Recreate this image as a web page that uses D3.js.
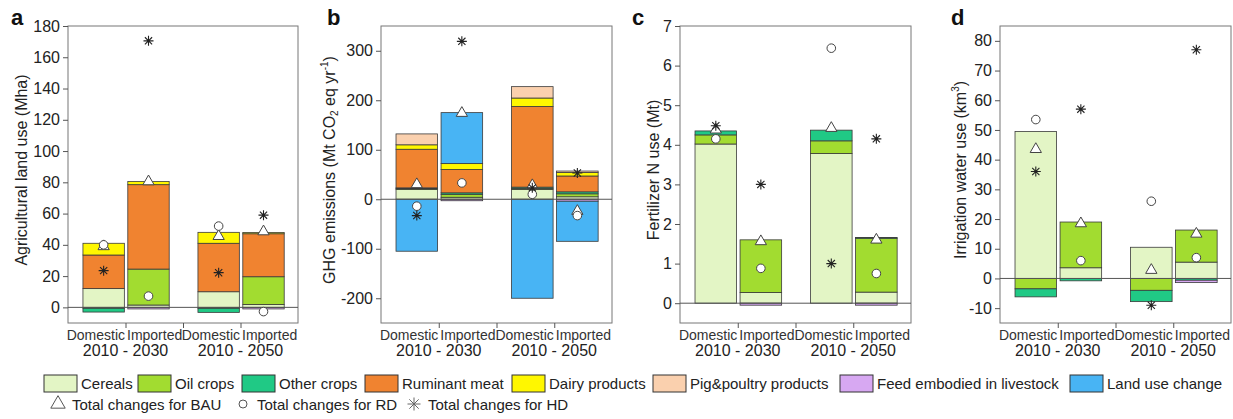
<!DOCTYPE html>
<html>
<head>
<meta charset="utf-8">
<script src="https://cdn.jsdelivr.net/npm/d3@7"></script>
<style>
  body { margin: 0; background: #fff; }
  svg { font-family: "Liberation Sans", Arial, sans-serif; }
</style>
</head>
<body>
<svg id="chart" width="1233" height="419"></svg>
<script>
const categories = ["Cereals", "Oil crops", "Other crops", "Ruminant meat", "Dairy products",
  "Pig&poultry products", "Feed embodied in livestock", "Land use change"];
const colors = ["#e3f5c5", "#a2dc30", "#20c985", "#f08330", "#fff700", "#fad0ae", "#d7a8f2", "#48b4f4"];
const barLabels = ["Domestic", "Imported", "Domestic", "Imported"];
const periods = ["2010 - 2030", "2010 - 2050"];
const markerNames = ["Total changes for BAU", "Total changes for RD", "Total changes for HD"];

// a: agricultural land use (Mha), one row per category, one column per bar
const landUse = [
  [12, 1.5, 10, 1.8],
  [-0.6, 23, -0.6, 17.8],
  [-2.4, 0, -2.6, 0],
  [21.5, 54, 31, 27.5],
  [7.5, 2, 7, 0.8],
  [0, 0, 0, 0],
  [0, -1, 0, -1],
  [0, 0, 0, 0]
];
const landBAU = [39, 80.5, 45.5, 48.5];
const landRD = [40, 7.2, 52, -2.7];
const landHD = [23.5, 170.5, 22.2, 59];

// b: GHG emissions (Mt CO2 eq / yr)
const ghg = [
  [20, 4, 20, 5],
  [1.5, 6, 2, 6],
  [1.5, 3, 2.5, 4],
  [78, 47, 163, 32],
  [9, 12, 17, 7],
  [22, 0, 23, 3],
  [0, -3, 0, -4],
  [-105, 103, -200, -81]
];
const ghgBAU = [30, 174, 28, -24];
const ghgRD = [-14, 33, 10, -33];
const ghgHD = [-33, 319, 23, 53];

// c: fertilizer N use (Mt)
const fert = [
  [4.02, 0.27, 3.78, 0.28],
  [0.23, 1.33, 0.32, 1.36],
  [0.1, 0, 0.27, 0.02],
  [0, 0, 0, 0],
  [0, 0, 0, 0],
  [0, 0, 0, 0],
  [0, -0.05, 0, -0.05],
  [0, 0, 0, 0]
];
const fertBAU = [4.38, 1.56, 4.42, 1.6];
const fertRD = [4.15, 0.88, 6.44, 0.75];
const fertHD = [4.48, 3.0, 1.0, 4.15];

// d: irrigation water use (km3)
const water = [
  [49.5, 3.6, 10.5, 5.5],
  [-3.5, 15.4, -4, 10.8],
  [-2.7, -0.8, -3.8, -0.6],
  [0, 0, 0, 0],
  [0, 0, 0, 0],
  [0, 0, 0, 0],
  [0, 0, 0, -0.8],
  [0, 0, 0, 0]
];
const waterBAU = [43.5, 18.5, 2.8, 15];
const waterRD = [53.5, 6, 26, 7];
const waterHD = [36, 57, -9, 77];

const svg = d3.select("#chart");
const plotTop = 26, plotBottom = 323;

const panels = [
  {id: "a", left: 68, right: 298, domain: [-10, 180], ticks: d3.range(0, 181, 20),
   values: landUse, marks: [landBAU, landRD, landHD], labelX: 11, titleX: 21},
  {id: "b", left: 381, right: 612, domain: [-250, 350], ticks: d3.range(-200, 301, 100),
   values: ghg, marks: [ghgBAU, ghgRD, ghgHD], labelX: 327, titleX: 329},
  {id: "c", left: 680, right: 911, domain: [-0.5, 7], ticks: d3.range(0, 8, 1),
   values: fert, marks: [fertBAU, fertRD, fertHD], labelX: 632, titleX: 653},
  {id: "d", left: 1000, right: 1231, domain: [-15, 85], ticks: d3.range(-10, 81, 10),
   values: water, marks: [waterBAU, waterRD, waterHD], labelX: 951, titleX: 960}
];

// bar centre in the 0..4 frame domain
function centre(i) { return 2 * Math.floor(i / 2) + (i % 2 === 0 ? 0.62 : 1.4); }
const halfW = 0.36;

function starPath(r) {
  const a = r * 0.72;
  return "M0," + (-r) + "L0," + r + "M" + (-r) + ",0L" + r + ",0" +
    "M" + (-a) + "," + (-a) + "L" + a + "," + a + "M" + (-a) + "," + a + "L" + a + "," + (-a);
}
const triPath = d3.symbol(d3.symbolTriangle, 55)();

function drawMarker(sel, kind) {
  if (kind === 0) {
    sel.append("path").attr("d", triPath).attr("fill", "#fff").attr("stroke", "#444").attr("stroke-width", 1);
  } else if (kind === 1) {
    sel.append("circle").attr("r", 4.3).attr("fill", "#fff").attr("stroke", "#444").attr("stroke-width", 1);
  } else {
    sel.append("path").attr("d", starPath(5)).attr("fill", "none").attr("stroke", "#222").attr("stroke-width", 1.1);
  }
}

panels.forEach(function(p) {
  const x = d3.scaleLinear().domain([0, 4]).range([p.left, p.right]);
  const y = d3.scaleLinear().domain(p.domain).range([plotBottom, plotTop]);
  const g = svg.append("g").attr("id", "panel-" + p.id);

  g.append("rect")
    .attr("x", p.left).attr("y", plotTop)
    .attr("width", p.right - p.left).attr("height", plotBottom - plotTop)
    .attr("fill", "none").attr("stroke", "#777").attr("stroke-width", 1);

  const rows = barLabels.map(function(b, i) {
    const r = {i: i};
    categories.forEach(function(c, k) { r[c] = p.values[k][i]; });
    return r;
  });
  const series = d3.stack().keys(categories).offset(d3.stackOffsetDiverging)(rows);

  series.forEach(function(s, k) {
    g.append("g")
      .selectAll("rect")
      .data(s.filter(function(d) { return d[1] !== d[0]; }))
      .join("rect")
        .attr("x", function(d) { return x(centre(d.data.i) - halfW); })
        .attr("width", function(d) { return x(centre(d.data.i) + halfW) - x(centre(d.data.i) - halfW); })
        .attr("y", function(d) { return y(Math.max(d[0], d[1])); })
        .attr("height", function(d) { return Math.abs(y(d[0]) - y(d[1])); })
        .attr("fill", colors[k])
        .attr("stroke", "#3a3a3a")
        .attr("stroke-width", 0.8);
  });

  g.append("line")
    .attr("x1", p.left).attr("x2", p.right)
    .attr("y1", y(0)).attr("y2", y(0))
    .attr("stroke", "#555").attr("stroke-width", 1);

  const ya = g.append("g")
    .attr("transform", "translate(" + p.left + ",0)")
    .call(d3.axisLeft(y).tickValues(p.ticks).tickSize(5).tickPadding(3)
      .tickFormat(function(d) { return String(d); }));
  ya.select(".domain").remove();
  ya.selectAll("text").attr("font-size", 16).attr("fill", "#222")
    .attr("font-family", "Liberation Sans, Arial, sans-serif");
  ya.selectAll("line").attr("stroke", "#555");

  const xa = g.append("g")
    .attr("transform", "translate(0," + plotBottom + ")")
    .call(d3.axisBottom(x).tickValues([1, 2, 3]).tickSize(5).tickFormat(""));
  xa.select(".domain").remove();
  xa.selectAll("line").attr("stroke", "#555");

  barLabels.forEach(function(lab, i) {
    const tick = 2 * Math.floor(i / 2) + 1;
    g.append("text")
      .attr("x", x(tick) + (i % 2 === 0 ? -0.5 : 1.5))
      .attr("y", 340)
      .attr("text-anchor", i % 2 === 0 ? "end" : "start")
      .attr("font-size", 14).attr("fill", "#333")
      .text(lab);
  });
  periods.forEach(function(per, j) {
    g.append("text")
      .attr("x", x(2 * j + 1)).attr("y", 356)
      .attr("text-anchor", "middle")
      .attr("font-size", 16).attr("fill", "#222")
      .text(per);
  });

  p.marks.forEach(function(arr, kind) {
    arr.forEach(function(v, i) {
      const m = g.append("g").attr("transform", "translate(" + x(centre(i)) + "," + y(v) + ")");
      drawMarker(m, kind);
    });
  });

  g.append("text")
    .attr("x", p.labelX).attr("y", 25)
    .attr("font-size", 22).attr("font-weight", "bold").attr("fill", "#111")
    .text(p.id);
});

// y titles
function yTitle(xc, parts) {
  const t = svg.append("text")
    .attr("transform", "translate(" + xc + ",170) rotate(-90)")
    .attr("text-anchor", "middle").attr("dy", "0.35em")
    .attr("font-size", 16).attr("fill", "#222");
  parts.forEach(function(pt) {
    const s = t.append("tspan").text(pt.t);
    if (pt.sub) s.attr("font-size", 10).attr("dy", "0.35em");
    if (pt.sup) s.attr("font-size", 10).attr("dy", "-0.7em");
    if (pt.back) s.attr("dy", pt.back);
  });
}
yTitle(panels[0].titleX, [{t: "Agricultural land use (Mha)"}]);
yTitle(panels[1].titleX, [{t: "GHG emissions (Mt CO"}, {t: "2", sub: true}, {t: " eq yr", back: "-0.22em"},
  {t: "-1", sup: true}, {t: ")", back: "0.45em"}]);
yTitle(panels[2].titleX, [{t: "Fertilizer N use (Mt)"}]);
yTitle(panels[3].titleX, [{t: "Irrigation water use (km"}, {t: "3", sup: true}, {t: ")", back: "0.45em"}]);

// legend, first row: category swatches
const legendX = [44, 138, 242, 365, 512, 653, 840, 1070];
const leg1 = svg.append("g").attr("font-size", 15).attr("fill", "#222");
categories.forEach(function(c, k) {
  leg1.append("rect").attr("x", legendX[k]).attr("y", 375).attr("width", 33).attr("height", 17)
    .attr("fill", colors[k]).attr("stroke", "#333").attr("stroke-width", 1);
  leg1.append("text").attr("x", legendX[k] + 37).attr("y", 389).text(c);
});

// second row: scenario markers
const leg2 = svg.append("g").attr("font-size", 15).attr("fill", "#222");
const m2x = [58, 243, 414];
markerNames.forEach(function(n, k) {
  const m = leg2.append("g").attr("transform", "translate(" + m2x[k] + ",404)");
  if (k === 0) m.append("path").attr("d", d3.symbol(d3.symbolTriangle, 90)()).attr("fill", "none").attr("stroke", "#555");
  else if (k === 1) m.append("circle").attr("r", 4).attr("fill", "none").attr("stroke", "#555");
  else m.append("path").attr("d", starPath(6.5)).attr("stroke", "#666").attr("fill", "none");
  leg2.append("text").attr("x", m2x[k] + 14).attr("y", 409.5).text(n);
});
</script>
</body>
</html>
